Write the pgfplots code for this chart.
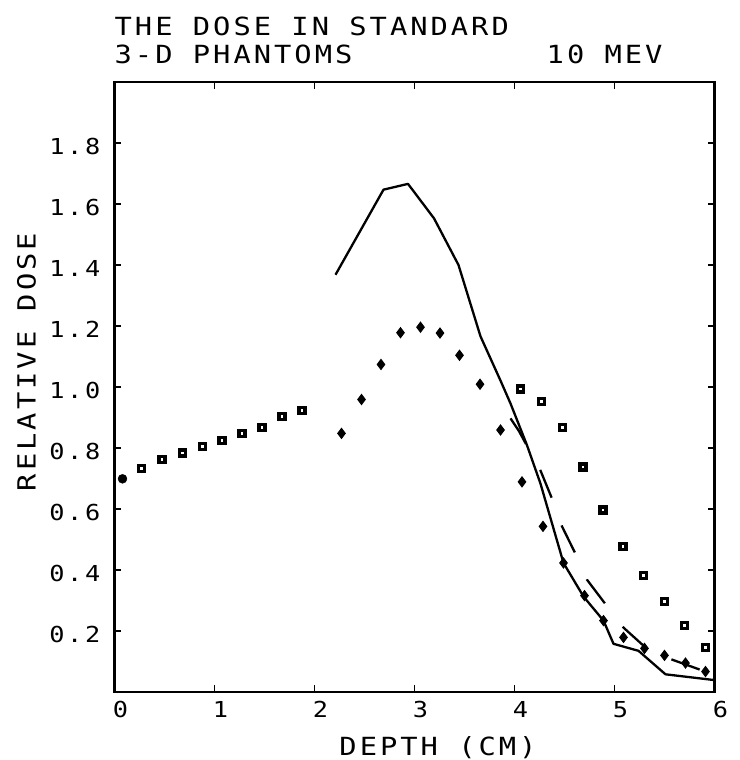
\documentclass[border=0pt]{standalone}
\usepackage{pgfplots}
\pgfplotsset{compat=1.18}
\usepackage{fontspec}
\setmainfont{DejaVu Sans Mono}
\newfontfamily\plotfont[FakeStretch=1.15,LetterSpace=12]{DejaVu Sans Mono}
\begin{document}
\begin{tikzpicture}
\useasboundingbox (-114.5pt,-68pt) rectangle (624.5pt,692pt);
\begin{axis}[
  at={(0pt,0pt)}, anchor=south west,
  scale only axis, width=600pt, height=610pt,
  xmin=0, xmax=6, ymin=0, ymax=2,
  xtick={0,1,2,3,4,5,6}, xticklabels={0,1,2,3,4,5,6},
  ytick={0.2,0.4,0.6,0.8,1.0,1.2,1.4,1.6,1.8},
  yticklabels={0.2,0.4,0.6,0.8,1.0,1.2,1.4,1.6,1.8},
  tick align=inside, major tick length=7pt,
  every tick/.style={black, line width=1.5pt},
  axis line style={black, line width=2.2pt},
  /pgf/number format/assume math mode=true,
  tick label style={font=\plotfont\fontsize{22}{22}\selectfont, inner sep=0pt},
  xticklabel style={anchor=north, yshift=-9pt, xshift=6pt},
  yticklabel style={anchor=east, xshift=-14pt, yshift=-3pt},
  clip=false,
]
% first point (dot on the axis)
\addplot[only marks, mark=*, mark size=4.5pt, black] coordinates {(0.08,0.699)};
% squares
\addplot[only marks, mark=square*, mark size=3pt,
  mark options={draw=black, fill=white, line width=3.4pt}] coordinates {
  (0.27,0.733) (0.475,0.763) (0.68,0.784) (0.88,0.805) (1.075,0.825)
  (1.275,0.847) (1.475,0.867) (1.675,0.903) (1.875,0.923)
  (4.06,0.994) (4.27,0.953) (4.48,0.868) (4.685,0.738) (4.885,0.597)
  (5.085,0.477) (5.29,0.381) (5.50,0.297) (5.70,0.218) (5.91,0.146)
};
% diamonds
\addplot[only marks, mark=diamond*, mark size=5pt, black,
  mark options={line width=1pt}] coordinates {
  (2.27,0.848) (2.47,0.959) (2.665,1.074) (2.86,1.178) (3.06,1.196)
  (3.255,1.177) (3.45,1.104) (3.655,1.009) (3.86,0.859) (4.075,0.689)
  (4.285,0.543) (4.49,0.423) (4.70,0.316) (4.89,0.234) (5.09,0.179)
  (5.30,0.143) (5.50,0.120) (5.71,0.095) (5.91,0.067)
};
% solid curve
\addplot[black, line width=2.3pt, line join=round] coordinates {
  (2.21,1.368) (2.69,1.647) (2.935,1.666) (3.195,1.553) (3.44,1.400)
  (3.66,1.166) (3.86,1.021) (3.96,0.946) (4.125,0.809) (4.26,0.683)
  (4.49,0.423) (4.69,0.313) (4.89,0.234) (4.99,0.158) (5.24,0.135)
  (5.51,0.058) (6.0,0.039)
};
% dashed curve
\addplot[black, line width=2.3pt, dash pattern=on 30pt off 29.5pt] coordinates {
  (3.96,0.897) (4.04,0.858) (4.26,0.726) (4.375,0.634) (4.475,0.543)
  (4.61,0.453) (4.725,0.368) (4.91,0.288) (5.09,0.211) (5.33,0.140)
  (5.475,0.118) (5.925,0.065)
};
\end{axis}
\begin{scope}[every node/.style={inner sep=0pt, font=\plotfont\fontsize{25}{25}\selectfont}]
\node[anchor=base west] at (0pt,656pt) {THE DOSE IN STANDARD};
\node[anchor=base west] at (0pt,628pt) {3-D PHANTOMS};
\node[anchor=base west] at (432pt,628pt) {10 MEV};
\node[anchor=base] at (323.5pt,-63pt) {DEPTH (CM)};
\node[rotate=90, anchor=center] at (-88pt,330pt) {RELATIVE DOSE};
\end{scope}
\end{tikzpicture}
\end{document}
